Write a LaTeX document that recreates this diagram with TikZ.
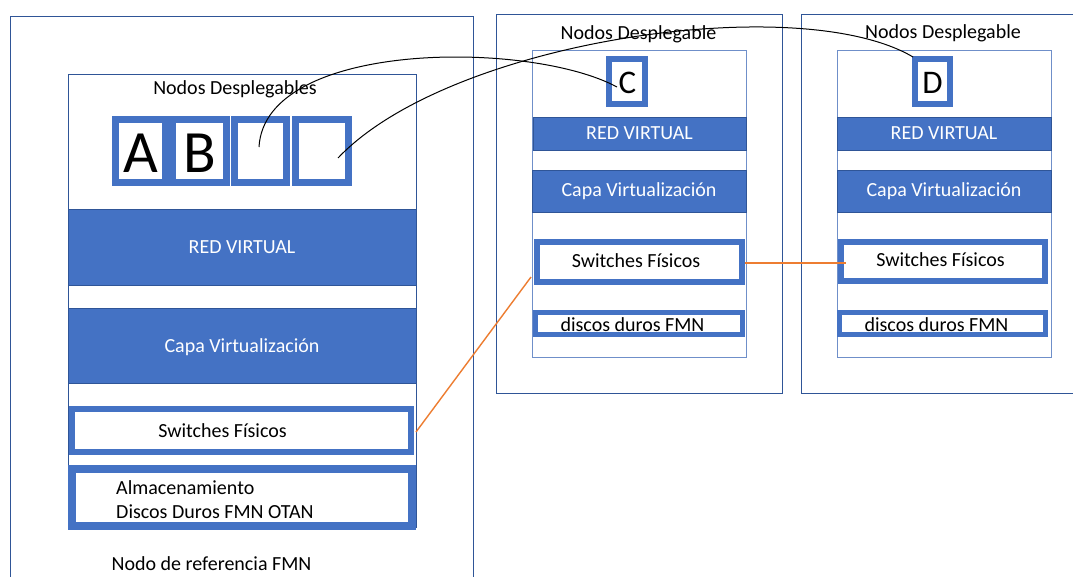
\documentclass[tikz,border=0pt]{standalone}
\usepackage{fontspec}
\setmainfont{Carlito}
\definecolor{ublue}{HTML}{4472C4}
\definecolor{dblue}{HTML}{2F5597}
\definecolor{lblue}{HTML}{6F8FC9}
\definecolor{uorange}{HTML}{ED7D31}
\tikzset{
  frame/.style={draw=dblue, line width=1pt, inner sep=0pt, outer sep=0pt},
  inframe/.style={draw=lblue, line width=1pt, fill=white, inner sep=0pt, outer sep=0pt},
  band/.style={draw=dblue, fill=ublue, line width=1pt, text=white, inner sep=0pt, outer sep=0pt, font=\fontsize{20}{24}\selectfont},
  thickbox/.style={draw=ublue, fill=white, line width=6pt, inner sep=0pt, outer sep=0pt},
  letterbox/.style={draw=ublue, fill=white, line width=7pt, inner sep=0pt, outer sep=0pt},
  lbl/.style={font=\fontsize{20}{24}\selectfont, inner sep=0pt},
  biglbl/.style={font=\fontsize{60}{60}\selectfont, inner sep=0pt},
  midlbl/.style={font=\fontsize{33}{33}\selectfont, inner sep=0pt},
  link/.style={black, line width=1pt},
  olink/.style={uorange, line width=1.4pt},
}
\begin{document}
\begin{tikzpicture}[x=1pt,y=-1pt]
\clip (0,0) rectangle (1073,576);
\fill[white] (0,0) rectangle (1073,576);

% ---------- left reference node ----------
\node[frame, minimum width=463pt, minimum height=570pt] (leftouter) at (241.5,301) {};
\node[draw=dblue, line width=1pt, inner sep=0pt, outer sep=0pt, minimum width=348pt, minimum height=453pt] (leftinner) at (242,300.5) {};
\node[lbl] (tNodosL) at (235,89) {Nodos Desplegables};

\node[letterbox, minimum width=50pt, minimum height=63pt] (bA) at (140.5,151) {};
\node[letterbox, minimum width=54pt, minimum height=63pt] (bB) at (199.5,151) {};
\node[letterbox, minimum width=52pt, minimum height=63pt] (b3) at (260.5,151) {};
\node[letterbox, minimum width=53pt, minimum height=63pt] (b4) at (322,151) {};
\node[biglbl] (tA) at (141,153) {A};
\node[biglbl] (tB) at (200,153) {B};

\node[band, minimum width=348pt, minimum height=76pt] (rvL) at (242,247) {RED VIRTUAL};
\node[band, minimum width=348pt, minimum height=75pt] (cvL) at (242,345.5) {};
\node[lbl, text=white] (tcvL) at (242,347) {Capa Virtualización};

\node[thickbox, minimum width=339pt, minimum height=43pt] (swL) at (241.5,430.5) {};
\node[lbl] (tswL) at (222.5,431) {Switches Físicos};

\node[draw=ublue, fill=white, line width=8pt, inner sep=0pt, outer sep=0pt, minimum width=340pt, minimum height=57pt] (alm) at (242,497.5) {};
\node[lbl, anchor=west] (talm1) at (116,488) {Almacenamiento};
\node[lbl, anchor=west] (talm2) at (116,512) {Discos Duros FMN OTAN};

\node[lbl] (tref) at (211.5,564) {Nodo de referencia FMN};

% ---------- middle deployable node ----------
\node[frame, minimum width=286pt, minimum height=379pt] (midouter) at (639,203.5) {};
\node[lbl] (tNodosM) at (638.5,34) {Nodos Desplegable};
\node[inframe, minimum width=214pt, minimum height=307pt] (midinner) at (639,203.5) {};
\node[draw=ublue, fill=white, line width=6pt, inner sep=0pt, outer sep=0pt, minimum width=36pt, minimum height=45pt] (bC) at (627,81.5) {};
\node[midlbl] (tC) at (627.5,82.5) {C};
\node[band, minimum width=213pt, minimum height=33pt] (rvM) at (639.5,133.5) {RED VIRTUAL};
\node[band, minimum width=214pt, minimum height=42pt] (cvM) at (639,191) {Capa Virtualización};
\node[thickbox, minimum width=205pt, minimum height=40pt] (swM) at (639.5,262) {};
\node[lbl] (tswM) at (636,261) {Switches Físicos};
\node[draw=ublue, fill=white, line width=5pt, inner sep=0pt, outer sep=0pt, minimum width=207pt, minimum height=22pt] (ddM) at (639,323.5) {};
\node[lbl] (tddM) at (632.5,325) {discos duros FMN};

% ---------- right deployable node ----------
\node[frame, minimum width=290pt, minimum height=379pt] (rightouter) at (946,203.5) {};
\node[lbl] (tNodosR) at (943,33) {Nodos Desplegable};
\node[inframe, minimum width=214pt, minimum height=307pt] (rightinner) at (944,203.5) {};
\node[draw=ublue, fill=white, line width=6pt, inner sep=0pt, outer sep=0pt, minimum width=35pt, minimum height=45pt] (bD) at (932.5,81.5) {};
\node[midlbl] (tD) at (932.5,82.5) {D};
\node[band, minimum width=214pt, minimum height=33pt] (rvR) at (944,133.5) {RED VIRTUAL};
\node[band, minimum width=214pt, minimum height=42pt] (cvR) at (944,191) {Capa Virtualización};
\node[thickbox, minimum width=204pt, minimum height=39pt] (swR) at (943,261.5) {};
\node[lbl] (tswR) at (940.5,260) {Switches Físicos};
\node[draw=ublue, fill=white, line width=5pt, inner sep=0pt, outer sep=0pt, minimum width=206pt, minimum height=22pt] (ddR) at (942.5,323.5) {};
\node[lbl] (tddR) at (936.5,325) {discos duros FMN};

% ---------- connectors ----------
\coordinate (p3) at (259,147);
\coordinate (p4) at (338,158);
\coordinate (pC) at (617,87);
\coordinate (pD) at (913,57);
\draw[link] (p3) .. controls (265,40) and (530,40) .. (pC);
\draw[link] (p4) .. controls (450,40) and (800,-10) .. (pD);

\coordinate (oL) at (416,432);
\coordinate (oM) at (531,277);
\coordinate (oM2) at (745,263);
\coordinate (oR) at (846,263);
\draw[olink] (oL) -- (oM);
\draw[olink] (oM2) -- (oR);
\end{tikzpicture}
\end{document}
